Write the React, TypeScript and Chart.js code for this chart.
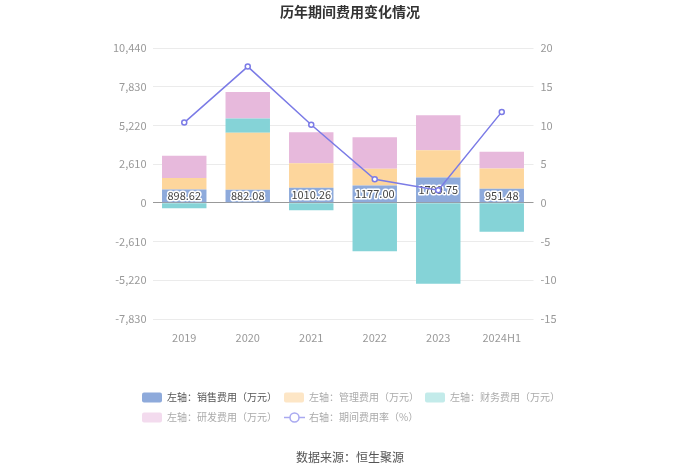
import React, { useEffect, useRef } from "react";
import { Chart, registerables } from "chart.js";

Chart.register(...registerables);

const categories = ["2019", "2020", "2021", "2022", "2023", "2024H1"];
const salesExp = [898.62, 882.08, 1010.26, 1177.0, 1709.75, 951.48];
const mgmtExp = [778, 3842, 1654, 1120, 1832, 1357];
const finExp = [-356, 960, -490, -3261, -5455, -1946];
const rdExp = [1503, 1791, 2100, 2127, 2369, 1141];
const expRate = [10.37, 17.6, 10.08, 3.05, 1.63, 11.75];
const leftTicks = [-7830, -5220, -2610, 0, 2610, 5220, 7830, 10440];
const rightTicks = [-15, -10, -5, 0, 5, 10, 15, 20];

const FONT = "'Noto Sans CJK SC', 'Noto Sans', sans-serif";

const colors = {
  sales: "#8eaadb",
  mgmt: "#fdd69c",
  fin: "#85d3d7",
  rd: "#e7b9dc",
  line: "#7b7be6",
};

const legendItems = [
  { label: "左轴：销售费用（万元）", type: "box", color: "#8eaadb", text: "#555", x: 142, row: 0 },
  { label: "左轴：管理费用（万元）", type: "box", color: "#fde6c6", text: "#aaa", x: 284, row: 0 },
  { label: "左轴：财务费用（万元）", type: "box", color: "#c3ebea", text: "#aaa", x: 425, row: 0 },
  { label: "左轴：研发费用（万元）", type: "box", color: "#f3dbee", text: "#aaa", x: 142, row: 1 },
  { label: "右轴：期间费用率（%）", type: "line", color: "#a9a9f0", text: "#aaa", x: 284, row: 1 },
];

const decorPlugin = {
  id: "decor",
  afterDatasetDraw(chart: any, args: any) {
    if (args.index !== 0) return;
    const ctx = chart.ctx;
    const meta = chart.getDatasetMeta(0);
    ctx.save();
    ctx.font = `11px ${FONT}`;
    ctx.textAlign = "center";
    ctx.textBaseline = "middle";
    meta.data.forEach((el: any, i: number) => {
      const y = (el.y + el.base) / 2;
      const txt = salesExp[i].toFixed(2);
      ctx.lineWidth = 3;
      ctx.strokeStyle = "#fff";
      ctx.lineJoin = "round";
      ctx.strokeText(txt, el.x, y);
      ctx.fillStyle = "#444";
      ctx.fillText(txt, el.x, y);
    });
    ctx.restore();
  },
  afterDraw(chart: any) {
    const ctx = chart.ctx;
    ctx.save();
    ctx.textAlign = "center";
    ctx.textBaseline = "middle";
    ctx.fillStyle = "#333";
    ctx.font = `bold 14px ${FONT}`;
    ctx.fillText("历年期间费用变化情况", 350, 12);
    ctx.font = `12px ${FONT}`;
    ctx.fillStyle = "#555";
    ctx.fillText("数据来源：恒生聚源", 350, 457);

    ctx.font = `10px ${FONT}`;
    ctx.textAlign = "left";
    legendItems.forEach((it) => {
      const cy = it.row === 0 ? 397.5 : 417.5;
      if (it.type === "box") {
        ctx.fillStyle = it.color;
        ctx.beginPath();
        (ctx as any).roundRect(it.x, cy - 5, 20, 10, 2);
        ctx.fill();
      } else {
        ctx.strokeStyle = it.color;
        ctx.lineWidth = 1.5;
        ctx.beginPath();
        ctx.moveTo(it.x, cy);
        ctx.lineTo(it.x + 21, cy);
        ctx.stroke();
        ctx.beginPath();
        ctx.arc(it.x + 10.5, cy, 4.5, 0, Math.PI * 2);
        ctx.fillStyle = "#fff";
        ctx.fill();
        ctx.stroke();
      }
      ctx.fillStyle = it.text;
      ctx.fillText(it.label, it.x + 25, cy);
    });
    ctx.restore();
  },
};

export default function App() {
  const ref = useRef<HTMLCanvasElement>(null);
  useEffect(() => {
    document.body.style.margin = "0";
    const tickFont = { family: FONT, size: 11 };
    const chart = new Chart(ref.current!, {
      type: "bar",
      data: {
        labels: categories,
        datasets: [
          { type: "bar", label: "销售费用", data: salesExp, backgroundColor: colors.sales, yAxisID: "y", order: 1, categoryPercentage: 0.7, barPercentage: 1 },
          { type: "bar", label: "管理费用", data: mgmtExp, backgroundColor: colors.mgmt, yAxisID: "y", order: 1, categoryPercentage: 0.7, barPercentage: 1 },
          { type: "bar", label: "财务费用", data: finExp, backgroundColor: colors.fin, yAxisID: "y", order: 1, categoryPercentage: 0.7, barPercentage: 1 },
          { type: "bar", label: "研发费用", data: rdExp, backgroundColor: colors.rd, yAxisID: "y", order: 1, categoryPercentage: 0.7, barPercentage: 1 },
          {
            type: "line",
            label: "期间费用率",
            data: expRate,
            yAxisID: "y1",
            order: 0,
            borderColor: colors.line,
            borderWidth: 1.5,
            pointRadius: 2.5,
            pointBorderWidth: 1.5,
            pointBackgroundColor: "#fff",
            pointBorderColor: colors.line,
            tension: 0,
          } as any,
        ],
      },
      options: {
        responsive: false,
        animation: false,
        layout: { padding: { top: 48, bottom: 130, left: 0, right: 0 } },
        plugins: { legend: { display: false }, title: { display: false }, tooltip: { enabled: false } },
        scales: {
          x: {
            stacked: true,
            grid: { display: false },
            border: { display: false },
            ticks: { color: "#999", font: tickFont, padding: 4 },
            afterFit(s: any) { s.height = 25; },
          },
          y: {
            stacked: true,
            position: "left",
            min: leftTicks[0],
            max: leftTicks[leftTicks.length - 1],
            afterBuildTicks(s: any) { s.ticks = leftTicks.map((v) => ({ value: v })); },
            ticks: {
              color: "#999",
              font: tickFont,
              padding: 6,
              callback: (v: any) => Number(v).toLocaleString("en-US"),
            },
            grid: {
              drawTicks: false,
              color: (c: any) => (c.tick && c.tick.value === 0 ? "#999" : "#ebebeb"),
            },
            border: { display: false },
            afterFit(s: any) { s.width = 152.5; },
          },
          y1: {
            stacked: false,
            position: "right",
            min: rightTicks[0],
            max: rightTicks[rightTicks.length - 1],
            afterBuildTicks(s: any) { s.ticks = rightTicks.map((v) => ({ value: v })); },
            ticks: { color: "#999", font: tickFont, padding: 7 },
            grid: { display: false, drawTicks: false },
            border: { display: false },
            afterFit(s: any) { s.width = 166.5; },
          },
        },
      },
      plugins: [decorPlugin],
    });
    return () => chart.destroy();
  }, []);
  return <canvas ref={ref} width={700} height={474} style={{ display: "block" }} />;
}
